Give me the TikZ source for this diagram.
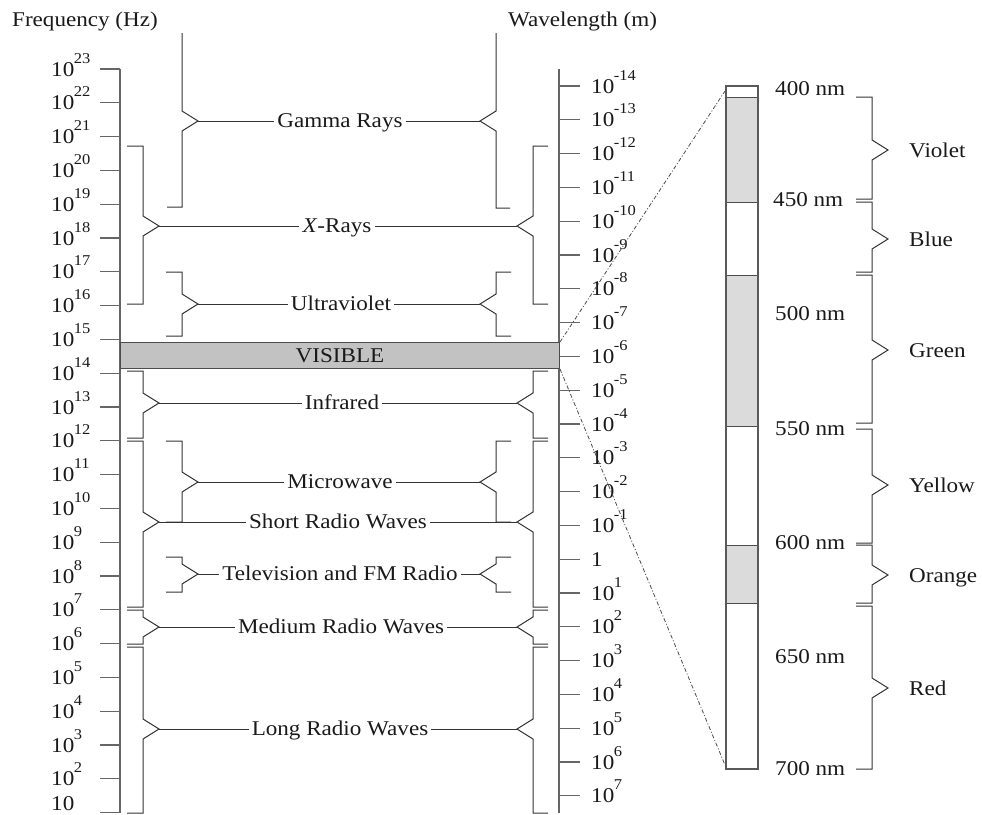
\documentclass[tikz,border=0pt]{standalone}
\usepackage{fontspec}
\setmainfont{Liberation Serif}[FakeStretch=1.1]
\newcommand\myexp[1]{\kern-0.5pt\raisebox{13pt}{\fontsize{15}{15}\selectfont #1}}
% left-type bracket: x, ytop, ybot, ymid, tip name
\newcommand\brL[5]{%
  \draw[br] ({#1-16},#2) -- (#1,#2) -- (#1,{#4-10}) -- ({#1+16},#4) -- (#1,{#4+10}) -- (#1,#3) -- ({#1-16},#3);
  \coordinate (#5) at ({#1+16},#4);}
% right-type bracket (mirror)
\newcommand\brR[5]{%
  \draw[br] ({#1+15},#2) -- (#1,#2) -- (#1,{#4-10}) -- ({#1-16},#4) -- (#1,{#4+10}) -- (#1,#3) -- ({#1+15},#3);
  \coordinate (#5) at ({#1-16},#4);}
\tikzset{
  axis/.style={draw=black!60, line width=1.3pt},
  br/.style={draw=black!80, line width=1pt},
  lab/.style={text=black!90, inner sep=0pt},
  band/.style={text=black!90, inner xsep=3pt, inner ysep=0pt, anchor=base},
  conn/.style={draw=black!70, line width=0.8pt, dash pattern=on 4pt off 2pt on 1pt off 2pt},
}
\begin{document}
\begin{tikzpicture}[x=1pt,y=-1pt,font=\fontsize{21}{25}\selectfont]
\useasboundingbox (0,0) rectangle (982,814);

% titles
\node[lab,anchor=base west] (ftitle) at (12,26) {Frequency (Hz)};
\node[lab,anchor=base west] (wtitle) at (508,26) {Wavelength (m)};

% frequency axis
\draw[axis] (120,69) -- (120,813);
\foreach \k in {0,...,22} \draw[axis] (100,{69+33.8*\k}) -- (120,{69+33.8*\k});
\foreach \k in {0,...,21}{
  \pgfmathtruncatemacro\e{23-\k}
  \node[lab,anchor=base west] (f\k) at (51,{69+33.8*\k+7}) {10\myexp{\e}};
}
\node[lab,anchor=base west] (f22) at (51,810) {10};

% wavelength axis
\draw[axis] (559,69) -- (559,813);
\foreach \k in {0,...,21} \draw[axis] (559,{86+33.8*\k}) -- (580,{86+33.8*\k});
\foreach \k in {0,...,21}{
  \pgfmathtruncatemacro\e{\k-14}
  \ifnum\e=0
    \node[lab,anchor=base west] (w\k) at (591,{86+33.8*\k+7}) {1};
  \else
    \node[lab,anchor=base west] (w\k) at (591,{86+33.8*\k+7}) {10\myexp{\e}};
  \fi
}

% gamma brackets (open at top)
\draw[br] (182,33) -- (182,111) -- (198,121) -- (182,131) -- (182,207) -- (167,207);
\coordinate (gL) at (198,121);
\draw[br] (496,33) -- (496,111) -- (480,121) -- (496,131) -- (496,208) -- (510,208);
\coordinate (gR) at (480,121);

% inner left / right brackets
\brL{143}{146}{304}{226}{xL}
\brR{533}{146}{304}{226}{xR}
\brL{143}{371}{438}{403}{iL}
\brR{533}{371}{438}{403}{iR}
\brL{143}{441}{607}{522}{sL}
\brR{533}{441}{607}{522}{sR}
\brL{143}{610}{644}{627}{mL}
\brR{533}{610}{644}{627}{mR}
\brL{143}{647}{813}{729}{lL}
\brR{533}{647}{813}{729}{lR}
% outer brackets
\brL{182}{272}{336}{304}{uL}
\brR{496}{272}{336}{304}{uR}
\brL{182}{441}{522}{482}{mwL}
\brR{496}{441}{522}{482}{mwR}
\brL{182}{557}{592}{574}{tL}
\brR{496}{557}{592}{574}{tR}

% visible bar
\node[draw=black!70, fill=black!24, line width=1pt, minimum width=439pt, minimum height=26pt,
      inner sep=0pt, anchor=north west, text=black!90] (vis) at (120,342) {VISIBLE};

% band labels and leaders
\node[band] (gamma) at (340,127.5) {Gamma Rays};
\node[band] (xray) at (337,232.5) {\textit{X}-Rays};
\node[band] (uv) at (341,310.5) {Ultraviolet};
\node[band] (ir) at (342,409.5) {Infrared};
\node[band] (mw) at (340,488.5) {Microwave};
\node[band] (srw) at (338,528.5) {Short Radio Waves};
\node[band] (tv) at (340,580.5) {Television and FM Radio};
\node[band] (mrw) at (341,633.5) {Medium Radio Waves};
\node[band] (lrw) at (340,735.5) {Long Radio Waves};
\foreach \a/\n/\b in {gL/gamma/gR, xL/xray/xR, uL/uv/uR, iL/ir/iR, mwL/mw/mwR, sL/srw/sR, tL/tv/tR, mL/mrw/mR, lL/lrw/lR}{
  \draw[br] (\a) -- (\a -| \n.west);
  \draw[br] (\b) -- (\b -| \n.east);
}

% visible spectrum column
\fill[black!14] (726,97) rectangle (758,202);
\fill[black!14] (726,275) rectangle (758,426);
\fill[black!14] (726,545) rectangle (758,603);
\foreach \y in {97,202,275,426,545,603} \draw[black!70, line width=1pt] (726,\y) -- (758,\y);
\draw[black!65, line width=1.2pt] (726,86) rectangle (758,769);
\coordinate (spTL) at (725,91);
\coordinate (spBL) at (725,765);

% nm labels
\node[lab,anchor=base west] (n400) at (775,95) {400 nm};
\node[lab,anchor=base west] (n450) at (773,206) {450 nm};
\node[lab,anchor=base west] (n500) at (775,320) {500 nm};
\node[lab,anchor=base west] (n550) at (775,435) {550 nm};
\node[lab,anchor=base west] (n600) at (775,549) {600 nm};
\node[lab,anchor=base west] (n650) at (775,663) {650 nm};
\node[lab,anchor=base west] (n700) at (775,775) {700 nm};

% colour brackets
\brL{872}{97}{199}{150}{cV}
\brL{872}{202}{272}{239}{cB}
\brL{872}{275}{423}{350}{cG}
\brL{872}{429}{543}{485}{cY}
\brL{872}{545}{603}{575}{cO}
\brL{872}{606}{769}{688}{cR}
\node[lab,anchor=base west] (lv) at (909,157) {Violet};
\node[lab,anchor=base west] (lb) at (909,246) {Blue};
\node[lab,anchor=base west] (lg) at (909,357) {Green};
\node[lab,anchor=base west] (ly) at (909,492) {Yellow};
\node[lab,anchor=base west] (lo) at (909,582) {Orange};
\node[lab,anchor=base west] (lr) at (909,695) {Red};

% connectors from visible bar to spectrum
\draw[conn] (vis.north east) -- (spTL);
\draw[conn] (vis.south east) -- (spBL);
\end{tikzpicture}
\end{document}
